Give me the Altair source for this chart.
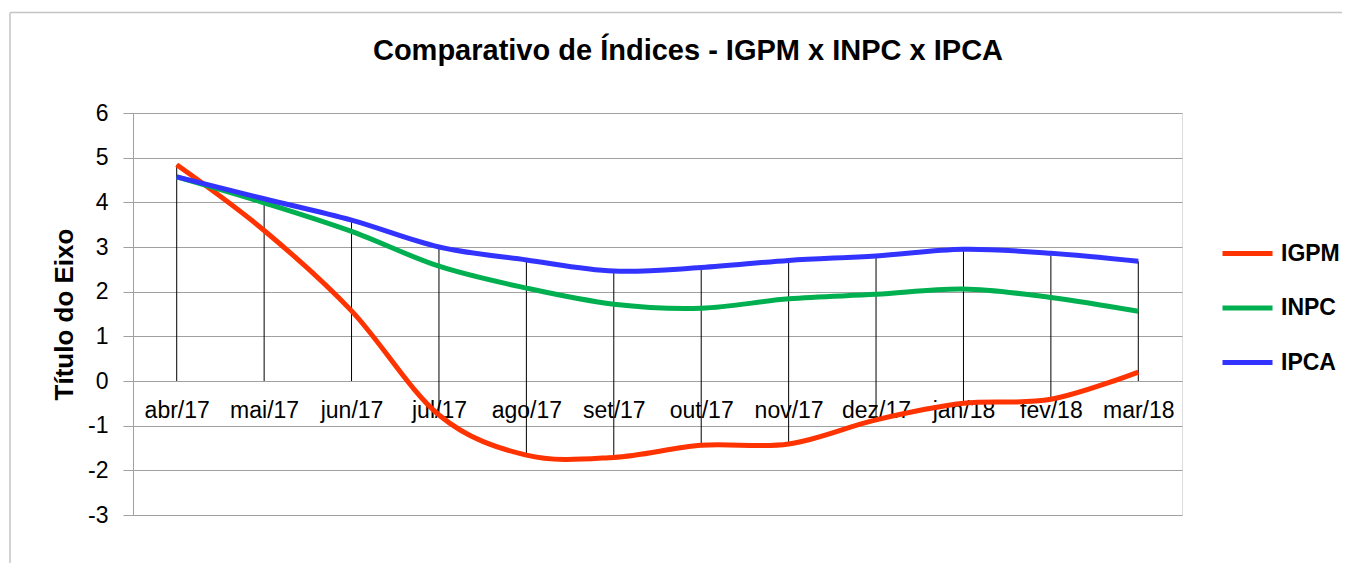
import altair as alt
import pandas as pd

# ---- data ----
categories = ["abr/17", "mai/17", "jun/17", "jul/17", "ago/17", "set/17",
              "out/17", "nov/17", "dez/17", "jan/18", "fev/18", "mar/18"]
igpm = [4.84, 3.37, 1.57, -0.76, -1.66, -1.71, -1.44, -1.41, -0.87, -0.50, -0.41, 0.20]
inpc = [4.57, 3.99, 3.35, 2.57, 2.08, 1.72, 1.63, 1.84, 1.94, 2.06, 1.87, 1.56]
ipca = [4.57, 4.08, 3.60, 3.00, 2.71, 2.46, 2.54, 2.70, 2.80, 2.95, 2.86, 2.68]
series_names = ["IGPM", "INPC", "IPCA"]
series_colors = ["#FF3300", "#00B050", "#3333FF"]
y_ticks = [-3, -2, -1, 0, 1, 2, 3, 4, 5, 6]
chart_title = "Comparativo de Índices - IGPM x INPC x IPCA"
y_title = "Título do Eixo"

# ---- tables ----
rows = []
for name, vals in zip(series_names, [igpm, inpc, ipca]):
    for i, (c, v) in enumerate(zip(categories, vals)):
        rows.append({"mes": c, "serie": name, "valor": v, "ordem": i})
df = pd.DataFrame(rows)

drop = pd.DataFrame({
    "mes": categories,
    "topo": [max(a, b, c, 0) for a, b, c in zip(igpm, inpc, ipca)],
    "base": [min(a, b, c, 0) for a, b, c in zip(igpm, inpc, ipca)],
})
one = pd.DataFrame({"k": [0]})

# ---- layout ----
W, H = 1049, 402
PAD_L, PAD_T, PAD_R, PAD_B = 125, 105, 160, 48
FONT = "Liberation Sans"
GRID = "#a0a0a0"
YMIN, YMAX = -3, 6
zero_offset = -H * (0 - YMIN) / (YMAX - YMIN)

x_scale = alt.Scale(type="point", padding=0.5, domain=categories)
y_scale = alt.Scale(domain=[YMIN, YMAX], nice=False, zero=False)

x_axis = alt.Axis(orient="bottom", offset=zero_offset, title=None, ticks=False, tickSize=0,
                  labelAngle=0, labelFontSize=23, labelFont=FONT, labelColor="black",
                  labelPadding=18, labelBaseline="top", labelOverlap=False,
                  domainColor=GRID, domainWidth=1, grid=False)
y_axis = alt.Axis(values=y_ticks, tickColor=GRID, tickSize=10, tickWidth=1,
                  labelPadding=15, labelFontSize=23, labelFont=FONT, labelColor="black",
                  labelExpr="(datum.value < 0 ? '-' : '') + abs(datum.value)",
                  domainColor=GRID, domainWidth=1, gridColor=GRID, gridWidth=1,
                  title=y_title, titleFontSize=26, titleFontWeight="bold", titleFont=FONT,
                  titleColor="black", titleX=-61, titleY=201, titleBaseline="alphabetic",
                  titleAlign="center")

border_top = alt.Chart(one).mark_rule(color="#c4c4c4", strokeWidth=1.5).encode(
    x=alt.value(-123), x2=alt.value(W + PAD_R + 5), y=alt.value(-100.6))
border_left = alt.Chart(one).mark_rule(color="#c4c4c4", strokeWidth=1.5).encode(
    x=alt.value(-123), y=alt.value(-100.6), y2=alt.value(H + PAD_B + 5))

title = alt.Chart(one).mark_text(
    text=chart_title, fontSize=29, fontWeight="bold", font=FONT, color="black",
    align="center", baseline="alphabetic").encode(x=alt.value(555), y=alt.value(-53.3))

drops = alt.Chart(drop).mark_rule(color="black", strokeWidth=1).encode(
    x=alt.X("mes:N", sort=categories, scale=x_scale, axis=x_axis),
    y=alt.Y("topo:Q", scale=y_scale, axis=y_axis),
    y2="base:Q",
)

lines = alt.Chart(df).mark_line(strokeWidth=5, interpolate="cardinal", tension=0).encode(
    x=alt.X("mes:N", sort=categories, scale=x_scale, axis=x_axis),
    y=alt.Y("valor:Q", scale=y_scale, axis=y_axis),
    color=alt.Color("serie:N", scale=alt.Scale(domain=series_names, range=series_colors),
                    legend=alt.Legend(orient="none", legendX=W + 38, legendY=113, title=None,
                                      symbolType="stroke", symbolSize=2500, symbolStrokeWidth=5,
                                      labelFontSize=23, labelFontWeight="bold", labelFont=FONT,
                                      labelColor="black", labelOffset=6, rowPadding=14.5,
                                      padding=0)),
    order=alt.Order("ordem:Q"),
)

chart = alt.layer(border_top, border_left, title, drops, lines).properties(
    width=W, height=H,
    padding={"left": PAD_L, "top": PAD_T, "right": PAD_R, "bottom": PAD_B},
    autosize=alt.AutoSizeParams(type="none"),
).configure_view(stroke=None).configure(font=FONT)

chart.save("out.html", embed_options={"renderer": "svg", "actions": False})
